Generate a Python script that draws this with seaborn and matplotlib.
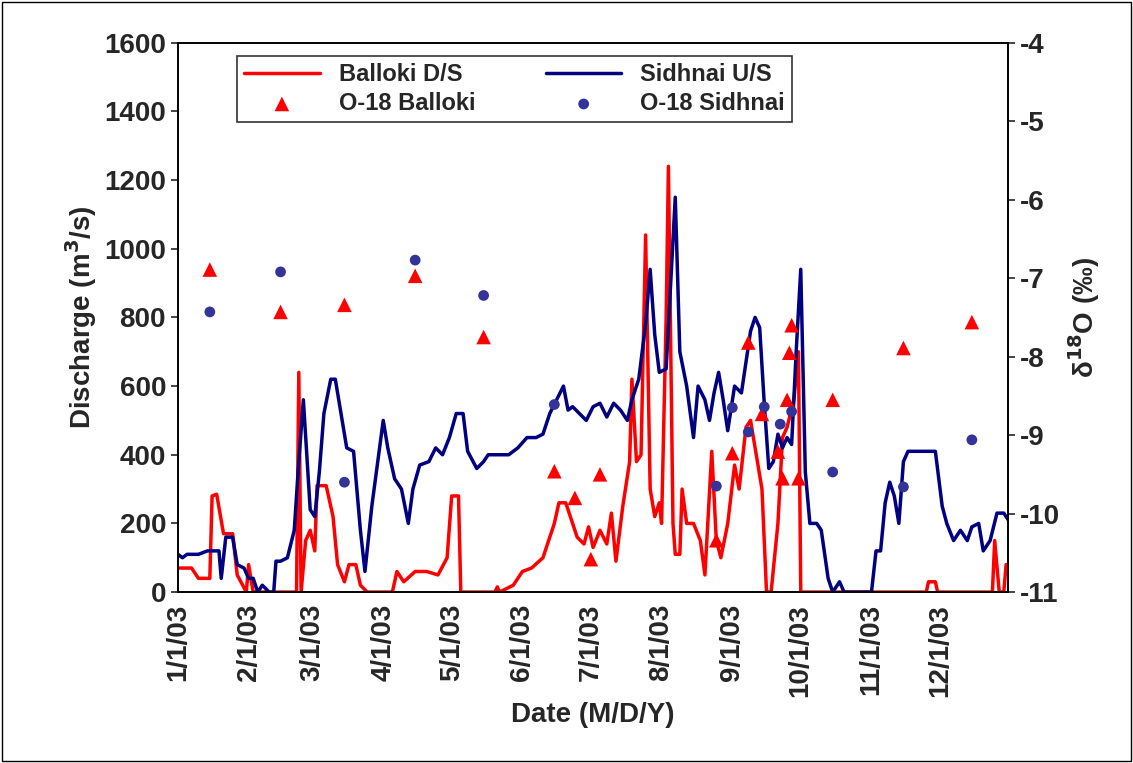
import pandas as pd
import matplotlib
matplotlib.use("Agg")
import matplotlib.pyplot as plt
import seaborn as sns

# Balloki D/S discharge (m3/s), read at turning points
balloki_dates = ["1/1","1/7","1/10","1/15","1/16","1/18","1/21","1/25","1/27","1/31","2/1","2/3","2/22","2/23","2/24",
    "2/26","2/28","3/2","3/3","3/7","3/10","3/12","3/15","3/17","3/20","3/22","3/25","4/5","4/7","4/10","4/15",
    "4/20","4/25","4/29","5/1","5/4","5/5","5/20","5/21","5/22","5/28","6/1","6/5","6/10","6/15","6/17","6/20",
    "6/23","6/25","6/28","6/30","7/2","7/5","7/8","7/10","7/12","7/15","7/18","7/19","7/21","7/23","7/25","7/27",
    "7/29","7/31","8/1","8/3","8/4","8/6","8/7","8/9","8/10","8/12","8/15","8/18","8/20","8/23","8/25","8/27",
    "8/30","9/2","9/4","9/7","9/9","9/12","9/14","9/16","9/18","9/21","9/23","9/25","9/28","9/30","10/1","11/25",
    "11/26","11/29","11/30","12/24","12/25","12/27","12/29","12/30","12/31"]
balloki_q = [70,70,40,40,280,285,170,170,50,0,80,0,0,640,0,
    150,180,120,310,310,220,80,30,80,80,20,0,0,60,30,60,
    60,50,100,280,280,0,0,15,0,20,60,70,100,200,260,260,
    200,160,140,190,130,180,140,230,90,250,380,620,380,400,1040,300,
    220,260,200,800,1240,200,110,110,300,200,200,150,50,410,150,100,
    200,370,300,480,500,380,300,0,0,200,450,480,560,700,0,0,
    30,30,0,0,150,0,0,80,80]

# Sidhnai U/S discharge (m3/s)
sidhnai_dates = ["1/1","1/3","1/5","1/10","1/14","1/19","1/20","1/22","1/25","1/27","1/30","2/1","2/3","2/5","2/7",
    "2/10","2/12","2/13","2/15","2/18","2/21","2/23","2/25","2/27","2/28","3/2","3/4","3/6","3/9","3/11","3/14",
    "3/16","3/19","3/22","3/24","3/27","3/30","4/1","4/3","4/6","4/9","4/12","4/14","4/17","4/21","4/24","4/27",
    "4/30","5/3","5/6","5/8","5/12","5/15","5/17","5/26","5/30","6/3","6/7","6/10","6/13","6/16","6/19","6/21",
    "6/23","6/26","6/29","7/2","7/5","7/8","7/11","7/14","7/17","7/19","7/22","7/25","7/27","7/29","7/31","8/3",
    "8/5","8/7","8/9","8/12","8/15","8/17","8/20","8/22","8/24","8/26","8/28","8/30","9/2","9/5","9/9","9/11",
    "9/13","9/15","9/17","9/19","9/21","9/23","9/25","9/27","9/29","10/1","10/3","10/5","10/8","10/10","10/13",
    "10/15","10/18","10/20","11/1","11/3","11/5","11/7","11/9","11/11","11/13","11/15","11/17","11/29","12/2",
    "12/4","12/7","12/10","12/13","12/15","12/18","12/20","12/23","12/26","12/29","12/31"]
sidhnai_q = [110,100,110,110,120,120,40,160,160,80,70,40,40,0,20,
    0,0,90,90,100,180,380,560,350,240,220,350,520,620,620,500,
    420,410,180,60,250,400,500,420,330,300,200,300,370,380,420,400,
    450,520,520,410,360,380,400,400,420,450,450,460,520,560,600,530,
    540,520,500,540,550,510,550,530,500,560,620,780,940,750,640,650,
    900,1150,700,600,450,600,560,500,580,640,560,470,600,580,760,800,
    770,550,360,380,460,420,450,430,700,940,350,200,200,180,40,
    0,30,0,0,120,120,260,320,280,200,380,410,410,250,
    200,150,180,150,190,200,120,150,230,230,210]

# delta 18O (permil)
o18_balloki_dates = ["1/15","2/15","3/15","4/15","5/15","6/15","6/24","7/1","7/5","8/25","9/1","9/8","9/14",
    "9/21","9/23","9/25","9/26","9/27","9/30","10/15","11/15","12/15"]
o18_balloki = [-6.89,-7.43,-7.34,-6.97,-7.75,-9.46,-9.8,-10.58,-9.5,-10.34,-9.23,-7.82,-8.73,
    -9.21,-9.55,-8.55,-7.95,-7.6,-9.55,-8.55,-7.89,-7.56]
o18_sidhnai_dates = ["1/15","2/15","3/15","4/15","5/15","6/15","8/25","9/1","9/8","9/15","9/22","9/27",
    "10/15","11/15","12/15"]
o18_sidhnai = [-7.43,-6.92,-9.6,-6.77,-7.22,-8.61,-9.65,-8.65,-8.96,-8.64,-8.86,-8.7,-9.47,-9.66,-9.06]

month_labels = ["1/1/03","2/1/03","3/1/03","4/1/03","5/1/03","6/1/03","7/1/03","8/1/03","9/1/03",
    "10/1/03","11/1/03","12/1/03"]


def to_dt(days):
    return pd.to_datetime([d + "/2003" for d in days], format="%m/%d/%Y")


bal = pd.DataFrame({"date": to_dt(balloki_dates), "q": balloki_q})
sid = pd.DataFrame({"date": to_dt(sidhnai_dates), "q": sidhnai_q})
ob = pd.DataFrame({"date": to_dt(o18_balloki_dates), "d18O": o18_balloki})
osd = pd.DataFrame({"date": to_dt(o18_sidhnai_dates), "d18O": o18_sidhnai})

sns.set_style("white")
plt.rcParams["font.family"] = ["Liberation Sans", "DejaVu Sans"]
plt.rcParams["font.weight"] = "bold"
plt.rcParams["axes.unicode_minus"] = False
plt.rcParams["mathtext.default"] = "bf"

fig = plt.figure(figsize=(11.33, 7.63), dpi=100)
ax = fig.add_axes([0.157, 0.224, 0.733, 0.72])
ax2 = ax.twinx()

sns.lineplot(data=bal, x="date", y="q", ax=ax, color="#ff0000", lw=2.5, label="Balloki D/S", legend=False)
sns.lineplot(data=sid, x="date", y="q", ax=ax, color="#000080", lw=2.5, label="Sidhnai U/S", legend=False)
sns.scatterplot(data=ob, x="date", y="d18O", ax=ax2, marker="^", s=110, color="#ff0000", edgecolor="none",
                label="O-18 Balloki", legend=False)
sns.scatterplot(data=osd, x="date", y="d18O", ax=ax2, marker="o", s=60, color="#333399", edgecolor="none",
                label="O-18 Sidhnai", legend=False)

ax.set_xlim(pd.Timestamp("2003-01-01"), pd.Timestamp("2003-12-31"))
ax.set_ylim(0, 1600)
ax2.set_ylim(-11, -4)
ax.set_yticks(range(0, 1601, 200))
ax2.set_yticks(range(-11, -3))
ticks = pd.to_datetime(month_labels, format="%m/%d/%y")
ax.set_xticks(ticks)
ax.set_xticklabels(month_labels, rotation=90)
for a in (ax, ax2):
    a.tick_params(labelsize=20, length=5, width=1.2, direction="out")
    for s in a.spines.values():
        s.set_color("black")
        s.set_linewidth(1.2)
ax.set_xlabel("Date (M/D/Y)", fontsize=20, fontweight="bold")
ax.set_ylabel("Discharge (m$^3$/s)", fontsize=20, fontweight="bold")
ax2.set_ylabel("δ$^{18}$O (‰)", fontsize=20, fontweight="bold")

h1, l1 = ax.get_legend_handles_labels()
h2, l2 = ax2.get_legend_handles_labels()
handles = [h1[0], h2[0], h1[1], h2[1]]
labels = [l1[0], l2[0], l1[1], l2[1]]
leg = ax.legend(handles, labels, ncol=2, loc="upper left", bbox_to_anchor=(0.057, 0.997),
                fontsize=17, frameon=True, fancybox=False, edgecolor="black", columnspacing=3.0,
                handlelength=3.2, borderpad=0.3, labelspacing=0.25)
leg.get_frame().set_linewidth(1.2)
for t in leg.get_texts():
    t.set_fontweight("bold")

fig.patches.append(plt.Rectangle((0.002, 0.002), 0.996, 0.996, transform=fig.transFigure,
                                 fill=False, edgecolor="black", lw=1))
fig.savefig("out.png", dpi=100)
